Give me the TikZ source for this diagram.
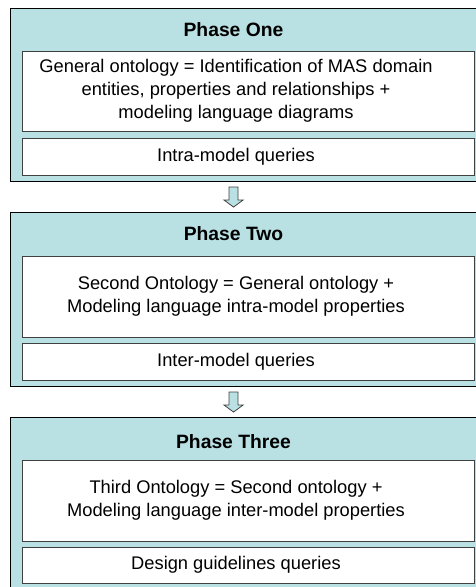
\documentclass[tikz,border=0pt]{standalone}
\usepackage{fontspec}
\setmainfont{Liberation Sans}
\usetikzlibrary{calc}

\definecolor{phasefill}{RGB}{185,224,227}
\definecolor{boxline}{RGB}{64,64,64}

\tikzset{
  phasebox/.style={draw=black, line width=1.1pt, fill=phasefill, rectangle,
    anchor=north west, inner sep=0pt, minimum width=476pt},
  innerbox/.style={draw=boxline, line width=0.8pt, fill=white, rectangle,
    anchor=north west, inner sep=0pt, minimum width=452pt},
  phasetitle/.style={font=\bfseries\fontsize{19.3}{23}\selectfont, inner sep=0pt},
  bodytext/.style={font=\fontsize{18.3}{23}\selectfont, align=center, inner sep=0pt},
  downarrow/.style={draw=boxline, line width=0.8pt, fill=phasefill, line join=miter}
}

\newcommand{\blockdown}[1]{%
  \draw[downarrow] ($(#1)+(-4.5pt,10pt)$) -- ($(#1)+(4.5pt,10pt)$)
    -- ($(#1)+(4.5pt,-3pt)$) -- ($(#1)+(9.5pt,-3pt)$) -- ($(#1)+(0pt,-10pt)$)
    -- ($(#1)+(-9.5pt,-3pt)$) -- ($(#1)+(-4.5pt,-3pt)$) -- cycle;}

\begin{document}
\begin{tikzpicture}[x=1pt, y=1pt]
  \useasboundingbox (0,0) rectangle (476,-587);
  \begin{scope}
    \clip (0,0) rectangle (476,-587);

    % Phase One
    \node[phasebox, minimum height=173pt] (p1) at (10,-8) {};
    \node[phasetitle] (t1) at (233.5,-30) {Phase One};
    \node[innerbox, minimum height=80pt] (p1a) at (22,-51) {};
    \node[innerbox, minimum height=37pt] (p1b) at (22,-138) {};
    \node[bodytext] (b1a) at (236,-91) {General ontology = Identification of MAS domain\\
      entities, properties and relationships +\\ modeling language diagrams};
    \node[bodytext] (b1b) at (236,-156.5) {Intra-model queries};

    % Phase Two
    \node[phasebox, minimum height=174pt] (p2) at (10,-212) {};
    \node[phasetitle] (t2) at (233.5,-234) {Phase Two};
    \node[innerbox, minimum height=81pt] (p2a) at (22,-256) {};
    \node[innerbox, minimum height=37pt] (p2b) at (22,-343) {};
    \node[bodytext] (b2a) at (236,-296.5) {Second Ontology = General ontology +\\
      Modeling language intra-model properties};
    \node[bodytext] (b2b) at (236,-361.5) {Inter-model queries};

    % Phase Three
    \node[phasebox, minimum height=172pt] (p3) at (10,-417) {};
    \node[phasetitle] (t3) at (233.5,-442) {Phase Three};
    \node[innerbox, minimum height=81pt] (p3a) at (22,-460) {};
    \node[innerbox, minimum height=36pt] (p3b) at (22,-547) {};
    \node[bodytext] (b3a) at (236,-500.5) {Third Ontology = Second ontology +\\
      Modeling language inter-model properties};
    \node[bodytext] (b3b) at (236,-565) {Design guidelines queries};

    % Transition arrows between phases
    \coordinate (a12) at ($($(p1.south)!0.5!(p2.north)$)+(-15pt,0)$);
    \coordinate (a23) at ($($(p2.south)!0.5!(p3.north)$)+(-15pt,0)$);
    \blockdown{a12}
    \blockdown{a23}
  \end{scope}
\end{tikzpicture}
\end{document}
